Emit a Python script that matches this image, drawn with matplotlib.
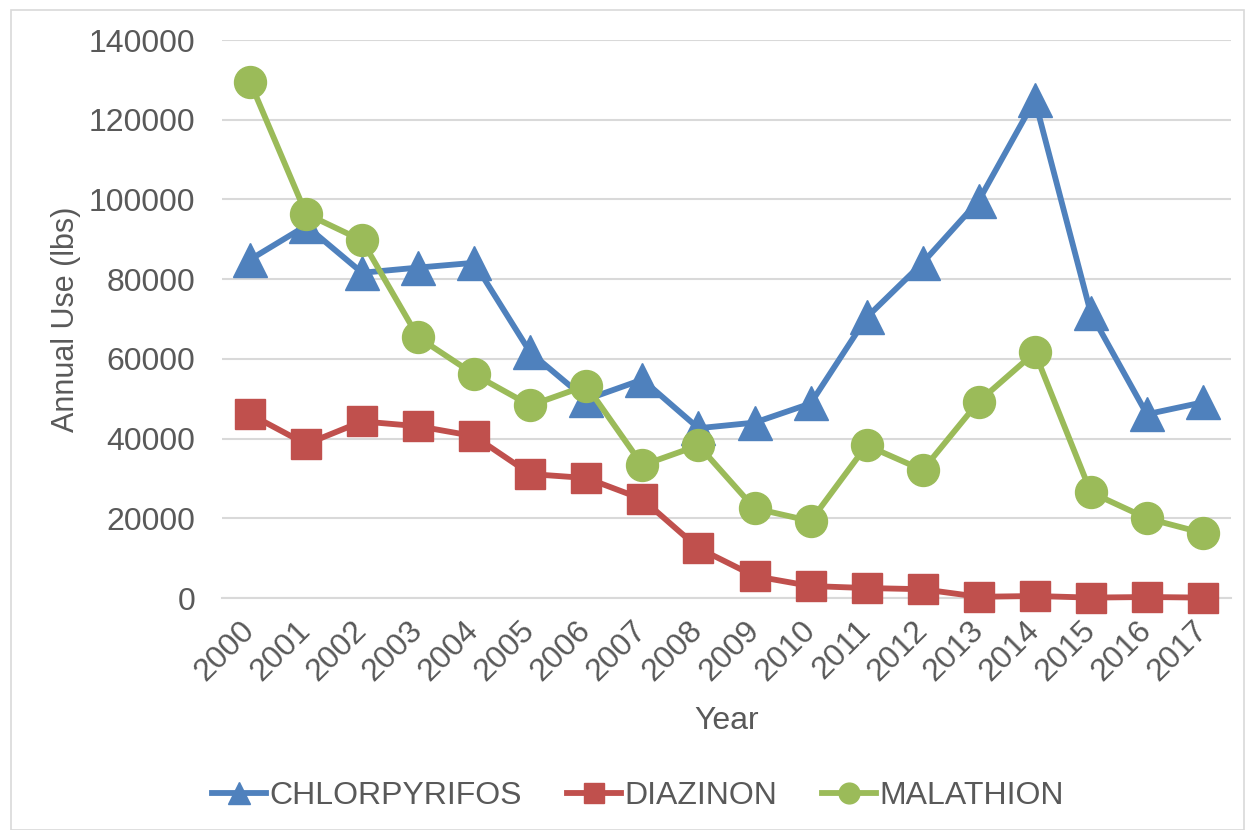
import matplotlib
matplotlib.use("Agg")
import matplotlib.pyplot as plt
from matplotlib.patches import Rectangle

years = [str(y) for y in range(2000, 2018)]
chlorpyrifos = [84900, 93400, 81600, 82900, 84100, 61600, 49800, 54800, 42600,
                44000, 48800, 70400, 84100, 99700, 125000, 71400, 46100, 49100]
diazinon = [46100, 38600, 44300, 43100, 40600, 31100, 30100, 24800, 12500,
            5500, 3000, 2500, 2200, 300, 500, 100, 250, 100]
malathion = [129500, 96400, 89700, 65400, 56100, 48300, 53300, 33300, 38300,
             22500, 19300, 38300, 32100, 49300, 61600, 26500, 20000, 16300]
yticks = [0, 20000, 40000, 60000, 80000, 100000, 120000, 140000]

plt.rcParams['font.family'] = ['Liberation Sans', 'DejaVu Sans']
TXT = '#595959'
FS = 23

fig = plt.figure(figsize=(12.46, 8.30), dpi=100)
fig.patches.append(Rectangle((11/1246, 0.0), 1 - 11/1246 - 2/1246, 1 - 10/830,
                             transform=fig.transFigure, fill=False,
                             edgecolor='#d9d9d9', linewidth=1.2))
ax = fig.add_axes([222/1246, 1 - 598/830, (1231-222)/1246, (598-40)/830])

x = list(range(len(years)))
lw = 4.2
ax.plot(x, chlorpyrifos, color='#4f81bd', lw=lw, marker='^', ms=24,
        label='CHLORPYRIFOS', zorder=3)
ax.plot(x, diazinon, color='#c0504d', lw=lw, marker='s', ms=22,
        label='DIAZINON', zorder=3)
ax.plot(x, malathion, color='#9bbb59', lw=lw, marker='o', ms=23,
        label='MALATHION', zorder=4)

ax.set_xlim(-0.5, len(years) - 0.5)
ax.set_ylim(0, 140000)
ax.set_yticks(yticks)
ax.set_yticklabels([str(v) for v in yticks])
ax.set_xticks(x)
ax.set_xticklabels(years, rotation=45, ha='right', va='center',
                   rotation_mode='anchor')
ax.tick_params(axis='both', length=0, labelsize=FS, labelcolor=TXT)
ax.tick_params(axis='x', pad=20)
ax.tick_params(axis='y', pad=19)
ax.grid(axis='y', color='#d9d9d9', lw=1.5, zorder=0)
ax.set_axisbelow(True)
for s in ['top', 'right', 'left']:
    ax.spines[s].set_visible(False)
ax.spines['bottom'].set_color('#d9d9d9')
ax.spines['bottom'].set_linewidth(1.5)
for ln in ax.lines:
    ln.set_clip_on(False)

ax.set_xlabel('Year', fontsize=FS, color=TXT, labelpad=14)
ax.set_ylabel('Annual Use (lbs)', fontsize=22, color=TXT, labelpad=6)

leg = fig.legend(loc='center', bbox_to_anchor=(0.512, 1 - 796/830), ncol=3,
                 frameon=False, fontsize=FS, handlelength=1.7,
                 markerscale=0.65, columnspacing=1.4, handletextpad=0.1)
for t in leg.get_texts():
    t.set_color(TXT)

fig.savefig('out.png', dpi=100)
